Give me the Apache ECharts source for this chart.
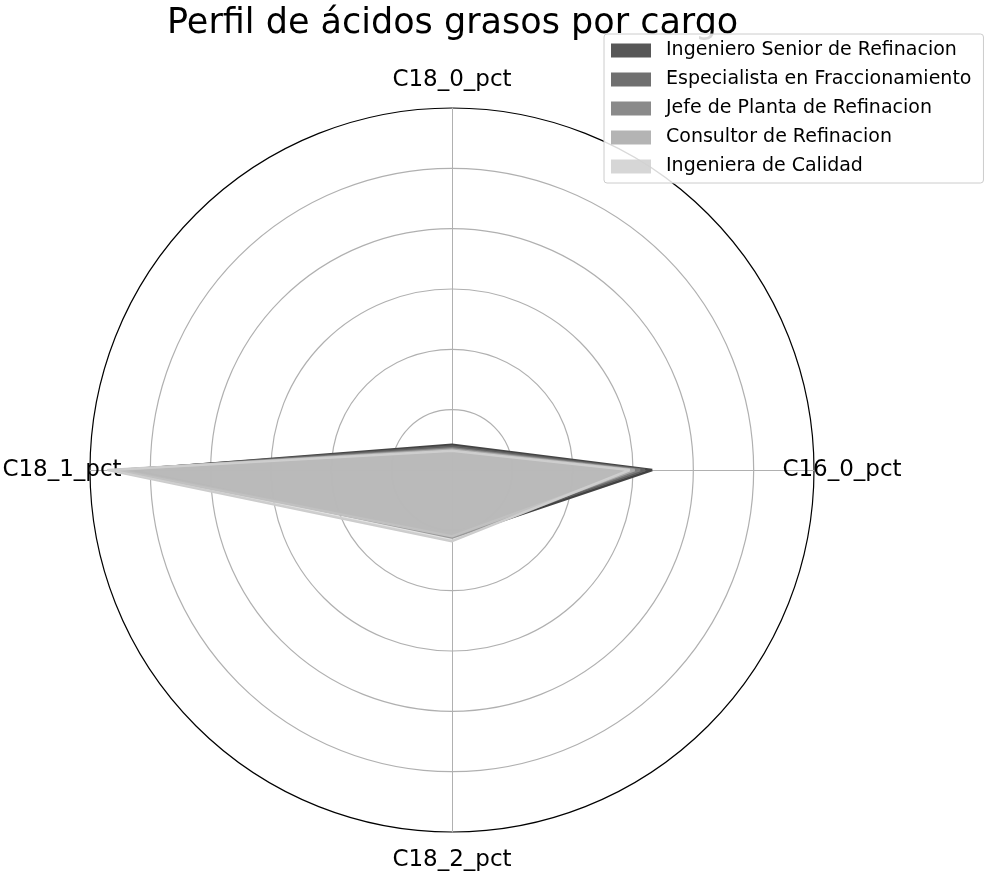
<!DOCTYPE html>
<html>
<head>
<meta charset="utf-8">
<script src="https://cdn.jsdelivr.net/npm/echarts@6/dist/echarts.min.js"></script>
<style>
html,body{margin:0;padding:0;background:#fff;}
#chart{width:984px;height:871px;}
</style>
</head>
<body>
<div id="chart"></div>
<script>
const titleText = 'Perfil de ácidos grasos por cargo';
const indicators = ['C16_0_pct', 'C18_0_pct', 'C18_1_pct', 'C18_2_pct'];
const roles = ['Ingeniero Senior de Refinacion', 'Especialista en Fraccionamiento', 'Jefe de Planta de Refinacion', 'Consultor de Refinacion', 'Ingeniera de Calidad'];
const seniorValues = [33.2, 4.2, 53.5, 11.2];
const especialistaValues = [32.0, 3.9, 54.5, 10.9];
const jefeValues = [31.2, 3.6, 55.2, 10.7];
const consultorValues = [30.3, 3.4, 55.8, 11.0];
const calidadValues = [29.5, 3.2, 57.0, 11.8];
const radialMax = 60;

const allValues = [seniorValues, especialistaValues, jefeValues, consultorValues, calidadValues];
const fillColors = ['rgba(64,64,64,0.88)', 'rgba(92,92,92,0.88)', 'rgba(122,122,122,0.88)', 'rgba(170,170,170,0.88)', 'rgba(208,208,208,0.88)'];
const lineColors = ['#444444', '#606060', '#7e7e7e', '#a8a8a8', '#cccccc'];

const chart = echarts.init(document.getElementById('chart'), null, {renderer: 'canvas'});
const option = {
  animation: false,
  backgroundColor: '#fff',
  title: {
    text: titleText,
    left: 162,
    top: 1,
    z: 2,
    textStyle: {fontFamily: 'DejaVu Sans', fontSize: 35, fontWeight: 'normal', color: '#000'}
  },
  legend: {
    orient: 'vertical',
    left: 604,
    top: 34,
    z: 20,
    data: roles,
    itemWidth: 40,
    itemHeight: 14,
    itemGap: 10,
    padding: [7, 12, 7, 7],
    backgroundColor: 'rgba(255,255,255,0.85)',
    borderColor: '#cccccc',
    borderWidth: 1,
    borderRadius: 3,
    icon: 'rect',
    textStyle: {fontFamily: 'DejaVu Sans', fontSize: 19, color: '#000', padding: [0, 0, 0, 10]}
  },
  radar: {
    center: [452, 470],
    radius: 362,
    startAngle: 0,
    shape: 'circle',
    splitNumber: 6,
    indicator: indicators.map(n => ({name: n, max: radialMax, min: 0})),
    axisName: {
      color: '#000',
      fontFamily: 'DejaVu Sans',
      fontSize: 23,
      align: 'center',
      verticalAlign: 'middle'
    },
    nameGap: 28,
    axisLine: {lineStyle: {color: '#b0b0b0', width: 1}},
    splitLine: {lineStyle: {color: ['#b0b0b0', '#b0b0b0', '#b0b0b0', '#b0b0b0', '#b0b0b0', '#b0b0b0', '#000000'], width: 1.2}},
    splitArea: {show: false},
    axisTick: {show: false},
    axisLabel: {show: false}
  },
  series: [{
    type: 'radar',
    symbol: 'none',
    data: roles.map((r, i) => ({
      name: r,
      value: allValues[i],
      lineStyle: {color: lineColors[i], width: 2.5},
      areaStyle: {color: fillColors[i]},
      itemStyle: {color: fillColors[i], borderColor: lineColors[i]}
    }))
  }]
};
chart.setOption(option);
</script>
</body>
</html>
